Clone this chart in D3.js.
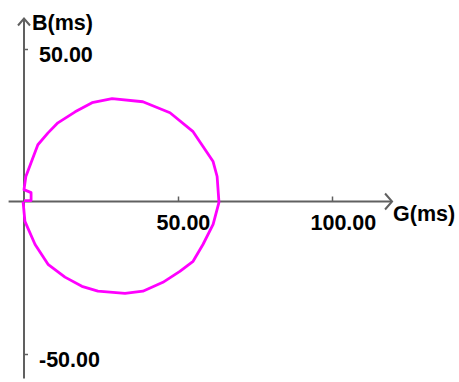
<!DOCTYPE html>
<html>
<head>
<meta charset="utf-8">
<script src="https://cdn.jsdelivr.net/npm/d3@7"></script>
<style>
  body { margin: 0; background: #fff; }
  svg { display: block; font-family: "Liberation Sans", Arial, sans-serif; }
</style>
</head>
<body>
<div id="chart"></div>
<script>
// traced loop, G (ms) and B (ms)
const gValues = [0, 2.3, 2.3, 0, 0.6, 4.5, 7.8, 11.0, 16.6, 22.1, 28.6, 38.6, 47.4, 54.9, 61.4, 62.7, 63.3,
  61.4, 58.1, 54.9, 50.6, 45.1, 38.6, 32.8, 24.0, 18.8, 13.3, 7.8, 3.6, 0.3, -0.3];
const bValues = [0.3, 0.3, 2.9, 3.9, 8.2, 18.6, 22.5, 25.8, 29.4, 32.4, 33.7, 32.7, 29.1, 22.9, 13.1, 8.2, -0.3,
  -7.5, -14.1, -19.6, -22.9, -26.5, -29.4, -30.1, -29.4, -27.8, -24.8, -20.6, -14.1, -6.5, 0];
const xTicks = [50, 100];
const yTicks = [50, -50];
const xLabel = "G(ms)";
const yLabel = "B(ms)";

const width = 459, height = 382;

const svg = d3.select("#chart").append("svg")
  .attr("width", width)
  .attr("height", height);

const x = d3.scaleLinear().domain([0, 100]).range([24, 332]);
const y = d3.scaleLinear().domain([-50, 50]).range([354, 49]);

const axisColor = "#606060";
const fontSize = 21.5;

// axis lines with open arrow heads
const axes = svg.append("g")
  .attr("stroke", axisColor)
  .attr("stroke-width", 2)
  .attr("fill", "none");

axes.append("line")
  .attr("x1", x(-5)).attr("x2", x(119.5))
  .attr("y1", y(0)).attr("y2", y(0));
axes.append("path")
  .attr("d", `M${x(119.5) - 7},${y(0) - 8}L${x(119.5)},${y(0)}L${x(119.5) - 7},${y(0) + 8}`);

axes.append("line")
  .attr("x1", x(0)).attr("x2", x(0))
  .attr("y1", y(-58)).attr("y2", y(60));
axes.append("path")
  .attr("d", `M${x(0) - 6},${y(60) + 7}L${x(0)},${y(60)}L${x(0) + 6},${y(60) + 7}`);

// ticks + labels via d3 axes
const fmt = d => d.toFixed(2);

const gx = svg.append("g")
  .attr("transform", `translate(0,${y(0)})`)
  .call(d3.axisTop(x).tickValues(xTicks).tickSize(5).tickSizeOuter(0).tickFormat(fmt));
gx.select(".domain").remove();
gx.selectAll(".tick line").attr("stroke", axisColor).attr("stroke-width", 1.5);
gx.selectAll(".tick text")
  .attr("y", 28.5)
  .attr("dy", null)
  .attr("x", -22)
  .attr("text-anchor", "start")
  .attr("fill", "#000")
  .style("font-size", fontSize + "px")
  .style("font-weight", "bold")
  .style("font-family", "Liberation Sans, Arial, sans-serif");

const gy = svg.append("g")
  .attr("transform", `translate(${x(0)},0)`)
  .call(d3.axisRight(y).tickValues(yTicks).tickSize(4).tickSizeOuter(0).tickFormat(fmt));
gy.select(".domain").remove();
gy.selectAll(".tick line").attr("stroke", axisColor).attr("stroke-width", 1.5);
gy.selectAll(".tick text")
  .attr("x", 15)
  .attr("dy", null)
  .attr("y", 12)
  .attr("text-anchor", "start")
  .attr("fill", "#000")
  .style("font-size", fontSize + "px")
  .style("font-weight", "bold")
  .style("font-family", "Liberation Sans, Arial, sans-serif");

// axis titles
svg.append("text")
  .attr("x", x(119.5) + 1)
  .attr("y", 221)
  .attr("font-size", fontSize)
  .attr("font-weight", "bold")
  .text(xLabel);

svg.append("text")
  .attr("x", x(0) + 8)
  .attr("y", 30)
  .attr("font-size", fontSize)
  .attr("font-weight", "bold")
  .text(yLabel);

// the loop
const pts = gValues.map((g, i) => [g, bValues[i]]);
svg.append("path")
  .datum(pts)
  .attr("fill", "none")
  .attr("stroke", "#ff00ff")
  .attr("stroke-width", 2.8)
  .attr("stroke-linejoin", "round")
  .attr("d", d3.line().x(d => x(d[0])).y(d => y(d[1])));
</script>
</body>
</html>
